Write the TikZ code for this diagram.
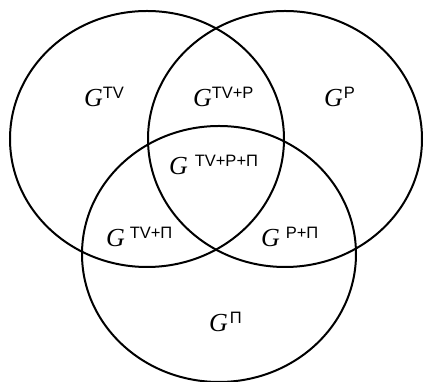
\documentclass[tikz,border=0pt]{standalone}
\usepackage{fontspec}
\setmainfont{Liberation Serif}
\setsansfont{Liberation Sans}
\usepackage{tikz}
\usetikzlibrary{positioning}
% a region label: italic G with an upright sans superscript
\newcommand{\gregion}[2][0pt]{\fontsize{26}{26}\selectfont\textit{G}\hspace{#1}\raisebox{8pt}{\fontsize{16.5}{16.5}\sffamily #2}}

\begin{document}
\begin{tikzpicture}[x=1pt, y=1pt, line width=2pt,
  setring/.style={draw=black, x radius=137, y radius=128},
  regionlbl/.style={anchor=base west, inner sep=0pt}]
\useasboundingbox (0,0) rectangle (424,382);
% the three sets
\foreach \cx/\cy in {147/243, 285/243, 219/128} {\draw[setring] (\cx,\cy) ellipse [];}
% the seven regions
\node[regionlbl] (tv)    at (83,275)  {\gregion{TV}};
\node[regionlbl] (tvp)   at (192,275) {\gregion{TV+P}};
\node[regionlbl] (p)     at (323,275) {\gregion[1pt]{P}};
\node[regionlbl] (tvppi) at (168,207) {\gregion[7pt]{TV+P+Π}};
\node[regionlbl] (tvpi)  at (105,135) {\gregion[5pt]{TV+Π}};
\node[regionlbl] (ppi)   at (260,135) {\gregion[6pt]{P+Π}};
\node[regionlbl] (pi)    at (208,50)  {\gregion[2pt]{Π}};
\end{tikzpicture}
\end{document}
